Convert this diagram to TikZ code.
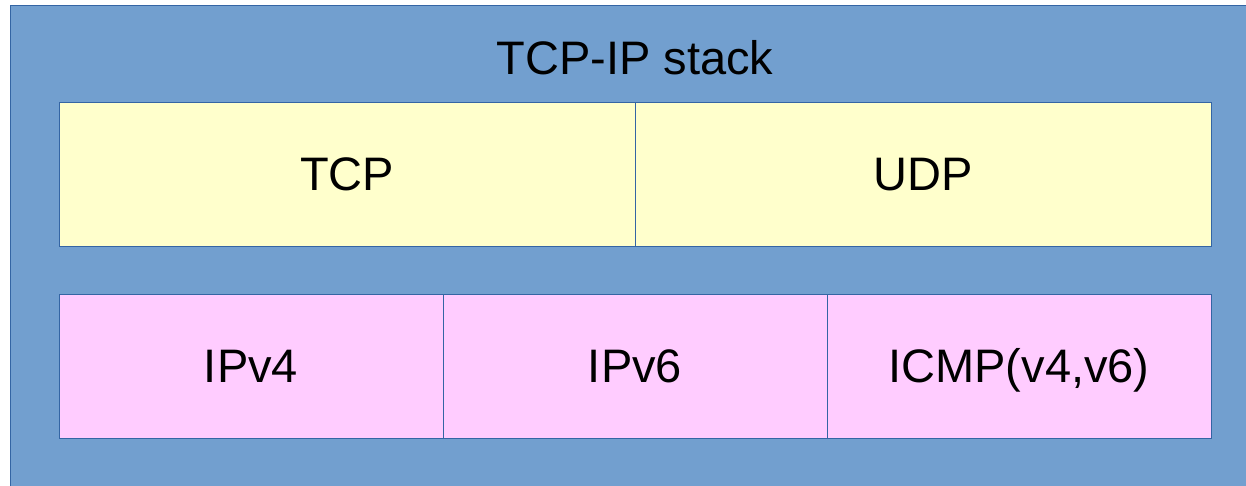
\documentclass[tikz,border=0pt]{standalone}
\usepackage{fontspec}
\setmainfont{Liberation Sans}
\definecolor{stackblue}{HTML}{729FCF}
\definecolor{edgeblue}{HTML}{3465A4}
\definecolor{transport}{HTML}{FFFFCC}
\definecolor{network}{HTML}{FFCCFF}
\tikzset{
  label font/.style={font=\fontsize{47}{56}\selectfont, text=black},
  layer/.style={draw=edgeblue, line width=0.8pt, inner sep=0pt, outer sep=0pt,
    label font, text height=33.6pt, text depth=0pt},
  transportbox/.style={layer, fill=transport, minimum width=576pt, minimum height=144pt},
  networkbox/.style={layer, fill=network, minimum width=384pt, minimum height=144pt},
}
\begin{document}
\begin{tikzpicture}[x=1pt, y=-1pt]
  \useasboundingbox (0,0) rectangle (1246,486);
  % outer container
  \node[draw=edgeblue, line width=0.8pt, fill=stackblue, inner sep=0pt, outer sep=0pt,
        anchor=north west, minimum width=1250pt, minimum height=490pt] (stack) at (10.5,5.5) {};
  \node[label font, anchor=base] (title) at (635,75) {TCP-IP stack};
  % transport layer
  \node[transportbox] (tcp) at (347,174) {TCP};
  \node[transportbox] (udp) at (923,174) {UDP};
  % network layer
  \node[networkbox] (ipv4) at (251,366) {IPv4};
  \node[networkbox] (ipv6) at (635,366) {IPv6};
  \node[networkbox] (icmp) at (1019,366) {ICMP(v4,v6)};
\end{tikzpicture}
\end{document}
